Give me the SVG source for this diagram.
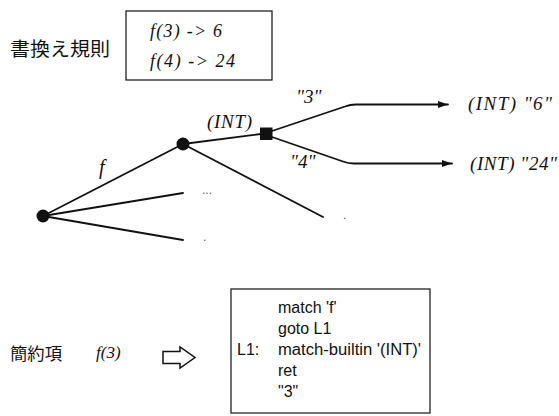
<svg xmlns="http://www.w3.org/2000/svg" width="559" height="416" viewBox="0 0 559 416">
  <style>
    .bg { fill: #ffffff; }
    .box { fill: none; stroke: #222; stroke-width: 1.3; }
    .edge { fill: none; stroke: #111; stroke-width: 1.8; stroke-linecap: round; }
    .node { fill: #111; }
    .it { font-family: "Liberation Serif", "Times New Roman", serif; font-style: italic; fill: #111; }
    .jp { font-family: "Noto Sans CJK JP", "Noto Sans", sans-serif; fill: #111; }
    .code { font-family: "Liberation Sans", Arial, sans-serif; font-size: 16px; fill: #111; }
    .dots { font-family: "Liberation Sans", Arial, sans-serif; font-size: 12px; fill: #555; }
  </style>
  <defs>
    <marker id="arrow" markerUnits="userSpaceOnUse" markerWidth="11" markerHeight="8" refX="10" refY="4" orient="auto">
      <path d="M0,0.5 L10,4 L0,7.5 Z" fill="#111"/>
    </marker>
  </defs>

  <rect class="bg" x="0" y="0" width="559" height="416"/>

  <!-- rewrite rules -->
  <g id="rules">
    <text class="jp" x="10" y="56" font-size="19" textLength="100" lengthAdjust="spacingAndGlyphs">書換え規則</text>
    <rect class="box" x="126" y="11" width="146" height="69"/>
    <text class="it" x="150" y="37" font-size="18" textLength="72" lengthAdjust="spacing">f(3) -&gt; 6</text>
    <text class="it" x="150" y="67" font-size="18" textLength="85" lengthAdjust="spacing">f(4) -&gt; 24</text>
  </g>

  <!-- connectors -->
  <g id="connectors">
    <line class="edge" x1="43" y1="216" x2="183" y2="144"/>
    <line class="edge" x1="43" y1="216" x2="183" y2="193"/>
    <line class="edge" x1="43" y1="216" x2="183" y2="240"/>
    <line class="edge" x1="183" y1="144" x2="323" y2="217"/>
    <line class="edge" x1="183" y1="144" x2="261" y2="134"/>
    <path class="edge" d="M272,131 L345,106.5 Q350,104.5 356,104.5 L448,104.5" marker-end="url(#arrow)"/>
    <path class="edge" d="M272,137 L343,161.5 Q348,163.5 354,163.5 L452,163.5" marker-end="url(#arrow)"/>
  </g>

  <!-- edge labels and ellipses -->
  <g id="edge-labels">
    <text class="it" x="99" y="174" font-size="20">f</text>
    <text class="it" x="207" y="128" font-size="19" textLength="45" lengthAdjust="spacing">(INT)</text>
    <text class="it" x="296" y="103" font-size="19">"3"</text>
    <text class="it" x="290" y="168" font-size="19">"4"</text>
    <text class="dots" x="202" y="194">...</text>
    <text class="dots" x="203" y="241">.</text>
    <text class="dots" x="343" y="219">.</text>
  </g>

  <!-- tree nodes -->
  <g id="root-node">
    <circle class="node" cx="43" cy="216" r="6.5"/>
  </g>
  <g id="f-node">
    <circle class="node" cx="183" cy="144" r="6.5"/>
  </g>
  <g id="int-node">
    <rect class="node" x="260" y="127.5" width="12.5" height="12.5"/>
  </g>

  <!-- results -->
  <g id="result-6">
    <text class="it" x="468" y="110" font-size="19" textLength="84" lengthAdjust="spacing">(INT) "6"</text>
  </g>
  <g id="result-24">
    <text class="it" x="470" y="170" font-size="19" textLength="87" lengthAdjust="spacing">(INT) "24"</text>
  </g>

  <!-- reduction term and compiled code -->
  <g id="redex">
    <text class="jp" x="10" y="360" font-size="17" textLength="52" lengthAdjust="spacingAndGlyphs">簡約項</text>
    <text class="it" x="96" y="358" font-size="17">f(3)</text>
    <path d="M163,351.5 L180,351.5 L180,347 L195,357.5 L180,368 L180,363.5 L163,363.5 Z" fill="none" stroke="#111" stroke-width="1.5" stroke-linejoin="miter"/>
  </g>
  <g id="code">
    <rect class="box" x="231" y="289" width="199" height="124"/>
    <text class="code" x="278" y="313">match 'f'</text>
    <text class="code" x="278" y="334">goto L1</text>
    <text class="code" x="237" y="355">L1:</text>
    <text class="code" x="278" y="355" textLength="143" lengthAdjust="spacingAndGlyphs">match-builtin '(INT)'</text>
    <text class="code" x="278" y="376">ret</text>
    <text class="code" x="278" y="397">"3"</text>
  </g>
</svg>
